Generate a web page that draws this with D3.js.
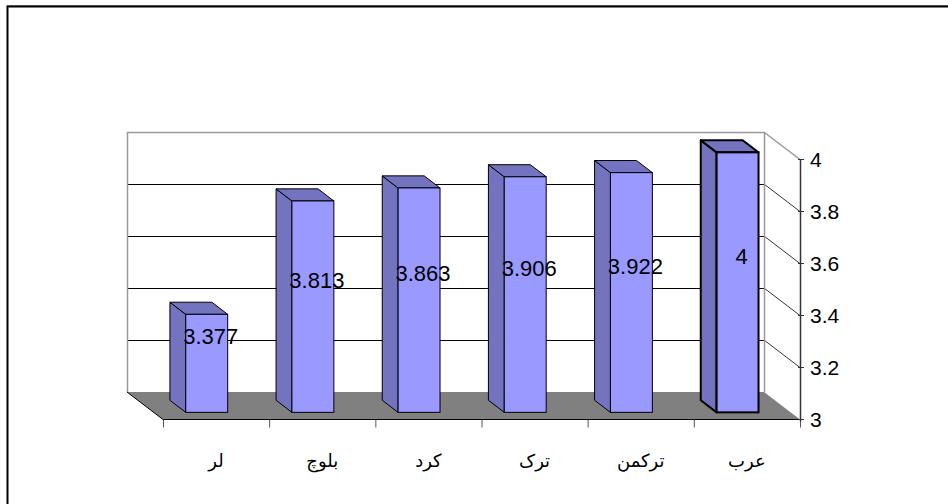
<!DOCTYPE html>
<html>
<head>
<meta charset="utf-8">
<script src="https://cdn.jsdelivr.net/npm/d3@7"></script>
<style>
body{margin:0;background:#fff;}
svg{display:block;}
</style>
</head>
<body>
<div id="chart"></div>
<script>
const categories = ['لر','بلوچ','کرد','ترک','ترکمن','عرب'];
const values = [3.377,3.813,3.863,3.906,3.922,4];
const labels = ['3.377','3.813','3.863','3.906','3.922','4'];
const yTicks = [3,3.2,3.4,3.6,3.8,4];

const width = 948;
const height = 504;

// back wall of the 3d plot, depth shift to the front plane
const back = {left:127,right:764,top:132,bottom:392};
const DX = 36, DY = 27.5;
const z0 = 0.30, z1 = 0.74;

const svg = d3.select('#chart')
.append('svg')
.attr('width',width)
.attr('height',height);

const x = d3.scalePoint()
.domain(categories)
.range([back.left,back.right])
.padding(0.5);

const y = d3.scaleLinear()
.domain([3,4])
.range([back.bottom,back.top]);

const barW = x.step()*0.395;

function proj(px,v,z){
    return [px + z*DX, y(v) + z*DY];
}

// outer frame
svg.append('line')
.attr('x1',7).attr('x2',width).attr('y1',5.5).attr('y2',5.5)
.attr('stroke','#999');
svg.append('path')
.attr('d',`M7.5,${height} V6.5 H${width}`)
.attr('fill','none')
.attr('stroke','#000')
.attr('stroke-width',2);

// walls
svg.append('rect')
.attr('x',back.left).attr('y',back.top)
.attr('width',back.right-back.left)
.attr('height',back.bottom-back.top)
.attr('fill','#fff');

const gridTicks = yTicks.filter(function(t){ return t>3 && t<4; });

svg.append('g')
.selectAll('line')
.data(gridTicks)
.enter()
.append('line')
.attr('x1',back.left).attr('x2',back.right)
.attr('y1',d=>y(d)+0.5).attr('y2',d=>y(d)+0.5)
.attr('stroke','#000');

// side wall gridlines
svg.append('g')
.selectAll('line')
.data(gridTicks)
.enter()
.append('line')
.attr('x1',back.right).attr('y1',d=>y(d))
.attr('x2',back.right+DX).attr('y2',d=>y(d)+DY)
.attr('stroke','#000')
.attr('stroke-width',0.8);

// wall outline (gray)
svg.append('path')
.attr('d',`M${back.left+0.5},${back.bottom} V${back.top+0.5} H${back.right+0.5} V${back.bottom} M${back.right+0.5},${back.top+0.5} L${back.right+DX},${back.top+DY}`)
.attr('fill','none')
.attr('stroke','#999')
.attr('stroke-width',1.5);

// floor
const floorPts = [proj(back.left,3,0),proj(back.right,3,0),proj(back.right,3,1),proj(back.left,3,1)];
svg.append('polygon')
.attr('points',floorPts.map(p=>p.join(',')).join(' '))
.attr('fill','#808080');
svg.append('line')
.attr('x1',floorPts[0][0]).attr('y1',floorPts[0][1])
.attr('x2',floorPts[3][0]).attr('y2',floorPts[3][1])
.attr('stroke','#000');

// bars
const bars = svg.append('g')
.selectAll('.bar')
.data(values)
.enter()
.append('g')
.classed('bar',true);

bars.each(function(d,i){
    const g = d3.select(this);
    const x0 = x(categories[i]) - barW/2;
    const x1 = x(categories[i]) + barW/2;
    const sw = i===values.length-1 ? 2 : 1;
    const side = [proj(x0,3,z0),proj(x0,d,z0),proj(x0,d,z1),proj(x0,3,z1)];
    const top = [proj(x0,d,z0),proj(x1,d,z0),proj(x1,d,z1),proj(x0,d,z1)];
    const a = proj(x0,d,z1), b = proj(x1,3,z1);
    g.append('polygon')
    .attr('points',side.map(p=>p.join(',')).join(' '))
    .attr('fill','#7373c0').attr('stroke','#000').attr('stroke-width',sw)
    .attr('stroke-linejoin','round');
    g.append('polygon')
    .attr('points',top.map(p=>p.join(',')).join(' '))
    .attr('fill','#7373c0').attr('stroke','#000').attr('stroke-width',sw)
    .attr('stroke-linejoin','round');
    g.append('rect')
    .attr('x',a[0]).attr('y',a[1])
    .attr('width',b[0]-a[0]).attr('height',b[1]-a[1])
    .attr('fill','#9999ff').attr('stroke','#000').attr('stroke-width',sw);
});

// data labels
svg.append('g')
.selectAll('text')
.data(values)
.enter()
.append('text')
.attr('x',(d,i)=>x(categories[i]) + DX*z1 + 4)
.attr('y',d=>(y(d)+y(3))/2 - 6)
.attr('text-anchor','middle')
.attr('dominant-baseline','central')
.style('font-family','"Liberation Sans", Arial, sans-serif')
.style('font-size','22px')
.text((d,i)=>labels[i]);

// front x axis
const fx0 = back.left+DX, fx1 = back.right+DX, fy = y(3)+DY;
svg.append('line')
.attr('x1',fx0).attr('x2',fx1).attr('y1',fy).attr('y2',fy)
.attr('stroke','#000');

const xTickPos = d3.range(categories.length+1).map(i=>fx0 + i*x.step());
svg.append('g')
.selectAll('line')
.data(xTickPos)
.enter()
.append('line')
.attr('x1',d=>d+0.5).attr('x2',d=>d+0.5)
.attr('y1',fy).attr('y2',fy+8)
.attr('stroke','#555');

svg.append('g')
.selectAll('text')
.data(categories)
.enter()
.append('text')
.attr('x',d=>x(d)+DX)
.attr('y',fy+47)
.attr('text-anchor','middle')
.style('font-family','"DejaVu Sans", sans-serif')
.style('font-size','18px')
.text(d=>d);

// front right value axis
svg.append('line')
.attr('x1',fx1+0.5).attr('x2',fx1+0.5)
.attr('y1',y(4)+DY).attr('y2',fy+2)
.attr('stroke','#333')
.attr('stroke-width',1.5);

const yAxis = svg.append('g')
.selectAll('g')
.data(yTicks)
.enter()
.append('g')
.attr('transform',d=>`translate(${fx1},${y(d)+DY})`);

yAxis.append('line')
.attr('x1',-2).attr('x2',4)
.attr('stroke','#333');

yAxis.append('text')
.attr('x',10)
.attr('dominant-baseline','central')
.style('font-family','"Liberation Sans", Arial, sans-serif')
.style('font-size','21px')
.text(d=>d);
</script>
</body>
</html>
